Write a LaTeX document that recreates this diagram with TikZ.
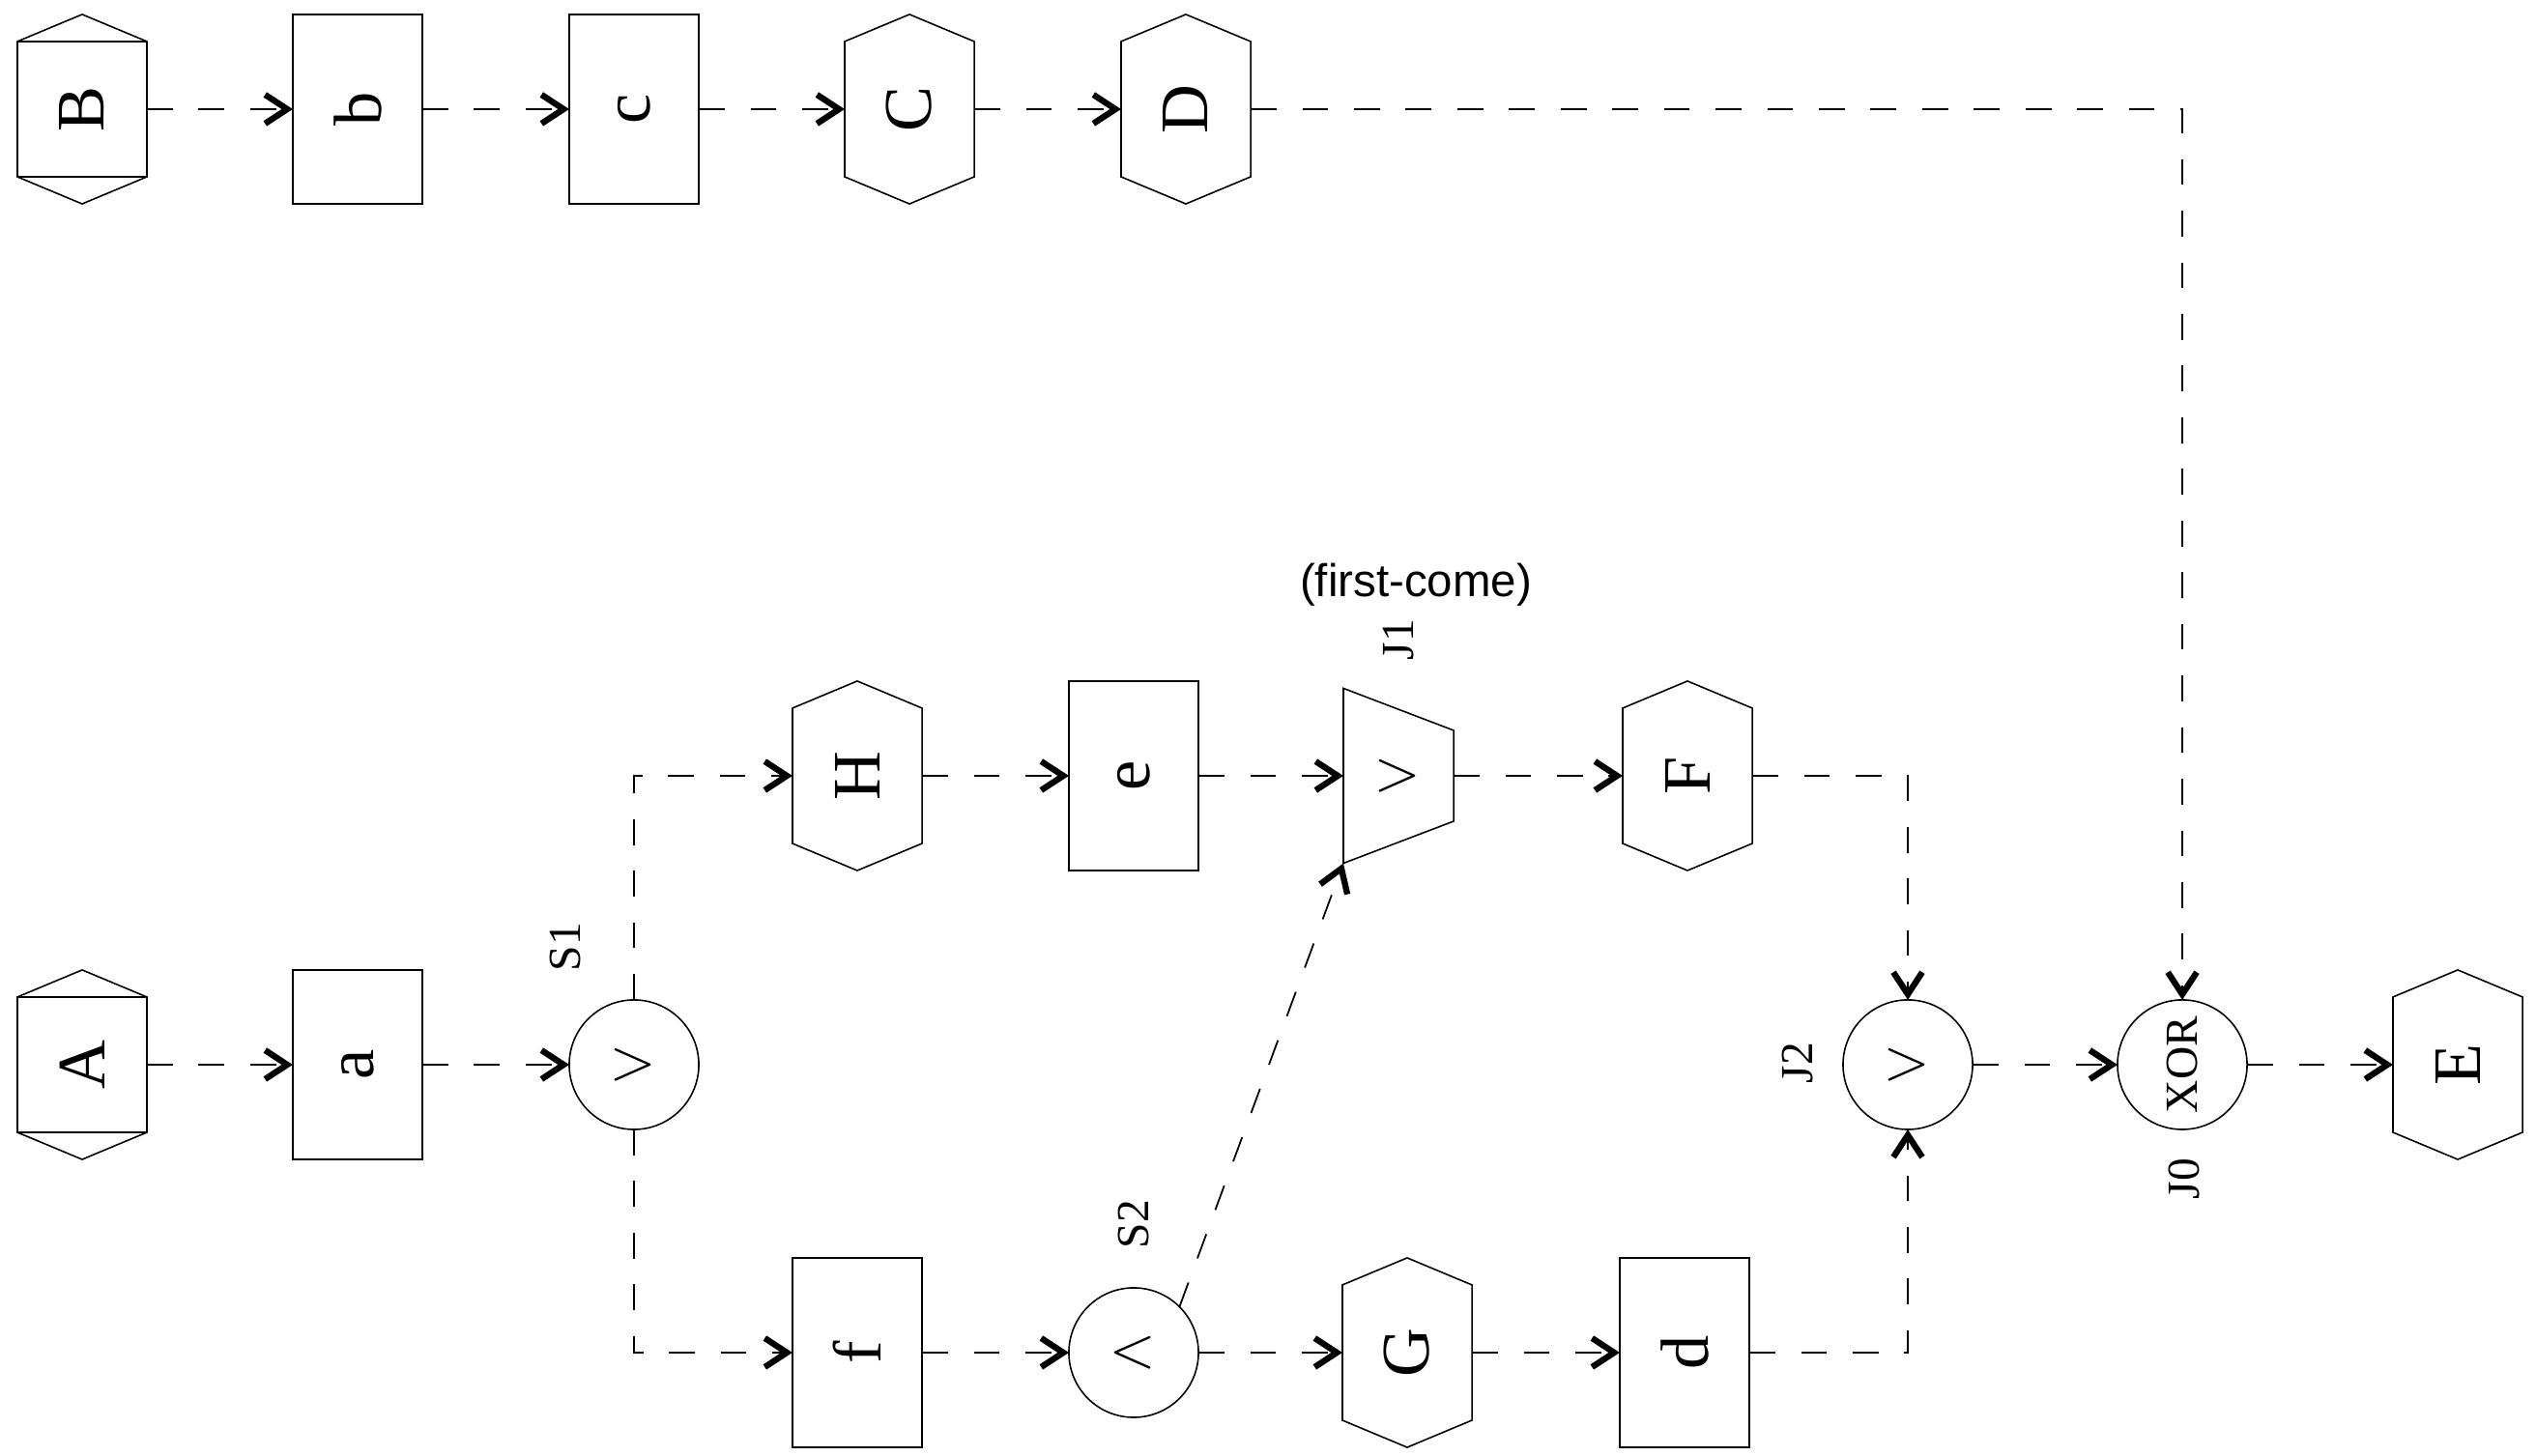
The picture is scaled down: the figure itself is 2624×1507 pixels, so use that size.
\documentclass[tikz,border=0pt]{standalone}
\usepackage{fontspec}
\setmainfont{Liberation Serif}
\newfontfamily\arialfont{Liberation Sans}
\usetikzlibrary{arrows.meta, calc}

\newcommand{\vlab}[1]{\rotatebox{90}{#1}}

\begin{document}
\begin{tikzpicture}[x=0.01cm, y=0.01cm,
  every node/.style={inner sep=0pt, outer sep=0pt},
  nodebox/.style={minimum width=1.34cm, minimum height=1.96cm, font=\fontsize{20}{24}\selectfont},
  task/.style={nodebox, draw, line width=0.45pt},
  hexa/.style={nodebox},
  gate/.style={circle, draw, line width=0.45pt, minimum size=1.34cm, font=\fontsize{18}{22}\selectfont},
  trap/.style={minimum width=1.14cm, minimum height=1.81cm, font=\fontsize{18}{22}\selectfont},
  tag/.style={font=\fontsize{13.5}{16}\selectfont},
  flow/.style={line width=0.5pt, dash pattern=on 7.6pt off 7.6pt,
    -{Straight Barb[length=6.5pt, width=8.5pt, line width=1.8pt]}}]
  \useasboundingbox (0,0) rectangle (2624,1507);
  % top row
  \node[hexa] (B) at (85,1394) {\vlab{B}};
  \node[task] (b) at (370,1394) {\vlab{b}};
  \node[task] (c) at (656,1394) {\vlab{c}};
  \node[hexa] (C) at (941,1394) {\vlab{C}};
  \node[hexa] (D) at (1227,1394) {\vlab{D}};
  % main row
  \node[hexa] (A) at (85,405) {\vlab{A}};
  \node[task] (a) at (370,405) {\vlab{a}};
  \node[gate] (S1) at (656,405) {\vlab{$\vee$}};
  \node[gate] (J2) at (1974,405) {\vlab{$\vee$}};
  \node[gate, font=\fontsize{13.5}{16}\selectfont] (J0) at (2258,405) {\vlab{XOR}};
  \node[hexa] (E) at (2543,405) {\vlab{E}};
  % upper branch
  \node[hexa] (H) at (887,704) {\vlab{H}};
  \node[task] (e) at (1173,704) {\vlab{e}};
  \node[trap] (J1) at (1447,704) {\vlab{$\vee$}};
  \node[hexa] (F) at (1746,704) {\vlab{F}};
  % lower branch
  \node[task] (f) at (887,107) {\vlab{f}};
  \node[gate] (S2) at (1173,107) {\vlab{$\wedge$}};
  \node[hexa] (G) at (1456,107) {\vlab{G}};
  \node[task] (d) at (1743,107) {\vlab{d}};
  % hexagon outlines
  \foreach \n in {A,B,C,D,E,F,G,H}
    \draw[line width=0.45pt] (\n.north) -- ([yshift=-0.28cm]\n.north east)
      -- ([yshift=0.28cm]\n.south east) -- (\n.south)
      -- ([yshift=0.28cm]\n.south west) -- ([yshift=-0.28cm]\n.north west) -- cycle;
  \foreach \n in {A,B}
    \draw[line width=0.45pt] ([yshift=-0.28cm]\n.north west) -- ([yshift=-0.28cm]\n.north east)
      ([yshift=0.28cm]\n.south west) -- ([yshift=0.28cm]\n.south east);
  % J1 trapezoid
  \draw[line width=0.45pt] (J1.north west) -- ([yshift=-0.435cm]J1.north east)
    -- ([yshift=0.435cm]J1.south east) -- (J1.south west) -- cycle;
  % labels
  \node[tag] (S1lab) at (585,527) {\vlab{S1}};
  \node[tag] (S2lab) at (1173,240) {\vlab{S2}};
  \node[tag] (J1lab) at (1447,845) {\vlab{J1}};
  \node[font=\arialfont\fontsize{13.5}{16}\selectfont] (J1note) at (1465,902) {(first-come)};
  \node[tag] (J2lab) at (1860,407) {\vlab{J2}};
  \node[tag] (J0lab) at (2260,287) {\vlab{J0}};
  % connectors
  \draw[flow] (B) -- (b);
  \draw[flow] (b) -- (c);
  \draw[flow] (c) -- (C);
  \draw[flow] (C) -- (D);
  \draw[flow] (D) -| (J0);
  \draw[flow] (A) -- (a);
  \draw[flow] (a) -- (S1);
  \draw[flow] (S1) |- (H);
  \draw[flow] (S1) |- (f);
  \draw[flow] (H) -- (e);
  \draw[flow] (e) -- (J1);
  \draw[flow] (J1) -- (F);
  \draw[flow] (F) -| (J2);
  \draw[flow] (f) -- (S2);
  \draw[flow] (S2) -- (G);
  \draw[flow] (G) -- (d);
  \draw[flow] (d) -| (J2);
  \draw[flow] (S2.45) -- (J1.south west);
  \draw[flow] (J2) -- (J0);
  \draw[flow] (J0) -- (E);
\end{tikzpicture}
\end{document}
